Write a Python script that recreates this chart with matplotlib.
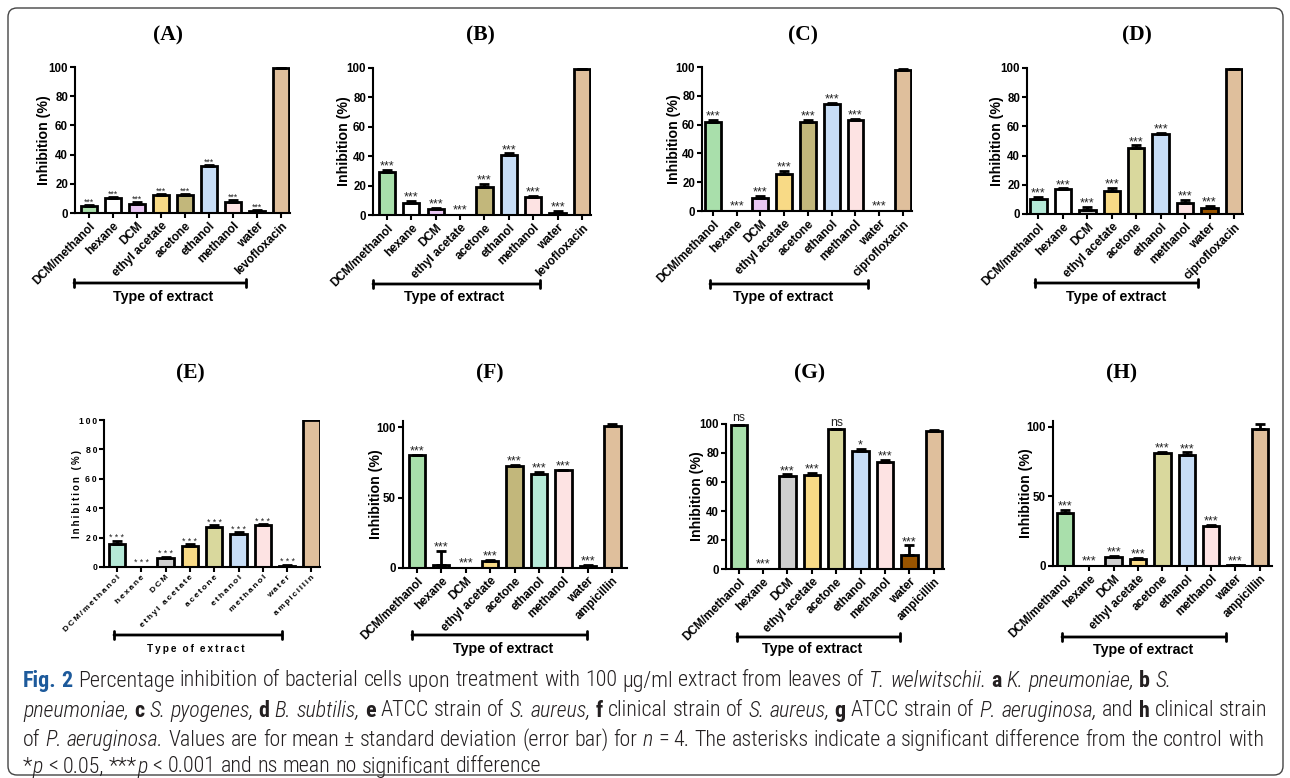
import matplotlib
matplotlib.use('Agg')
import matplotlib.pyplot as plt
import numpy as np
from matplotlib.patches import FancyBboxPatch

W, H = 1290, 778
fig = plt.figure(figsize=(W / 100, H / 100), dpi=100)
fig.patch.set_facecolor('white')

# ---------------- data ----------------
extracts = ['DCM/methanol', 'hexane', 'DCM', 'ethyl acetate', 'acetone',
            'ethanol', 'methanol', 'water']
control_A = 'levofloxacin'
control_B = 'levofloxacin'
control_C = 'ciprofloxacin'
control_D = 'ciprofloxacin'
control_E = 'ampicillin'
control_F = 'ampicillin'
control_G = 'ampicillin'
control_H = 'ampicillin'

vals_A = [4.5, 10, 6, 12.5, 12.5, 32.5, 7.5, 1.5, 99]
err_A = [1.0, 0.8, 1.5, 0.8, 0.8, 0.6, 1.5, 0.8, 0.5]
sig_A = ['***'] * 8 + ['']

vals_B = [29, 8.5, 4, 0, 19, 41, 12, 1.5, 99]
err_B = [1.5, 1.2, 1.0, 0, 2.0, 1.0, 0.8, 1.2, 0.5]
sig_B = ['***'] * 8 + ['']

vals_C = [62, 0, 9, 26, 62, 74, 63, 0, 98]
err_C = [1.5, 0, 1.5, 2.0, 1.5, 1.2, 1.0, 0, 0.5]
sig_C = ['***'] * 8 + ['']

vals_D = [10.5, 17, 3, 15.7, 45, 55, 7.7, 4, 99]
err_D = [1.2, 0.5, 1.8, 2.0, 2.0, 0.6, 1.8, 1.5, 0.5]
sig_D = ['***'] * 8 + ['']

vals_E = [15.5, 0, 6, 14.3, 27.3, 22.7, 28.6, 0.7, 100]
err_E = [2.5, 0, 1.0, 1.2, 1.0, 0.8, 0.8, 1.0, 0]
sig_E = ['***'] * 8 + ['']

vals_F = [80, 2, 0, 5, 72.7, 67, 69.2, 1.2, 101]
err_F = [0.5, 10.4, 0, 0.8, 0.5, 1.0, 0.5, 1.0, 1.0]
sig_F = ['***'] * 8 + ['']

vals_G = [99, 0, 63.8, 64.7, 96.3, 81.7, 73.6, 10, 95.4]
err_G = [1.0, 0, 1.5, 1.5, 0.5, 1.0, 1.5, 6.4, 0.3]
sig_G = ['ns', '***', '***', '***', 'ns', '*', '***', '***', '']

vals_H = [37.8, 0, 6.7, 5, 81.6, 79.7, 28.7, 0.5, 98.5]
err_H = [2.5, 0, 0.6, 0.8, 0.6, 2.0, 0.8, 0.3, 3.6]
sig_H = ['***'] * 8 + ['']

# ---------------- colours ----------------
GREEN, WHITE, LAV, YEL = '#a9dfab', '#ffffff', '#e9c6f3', '#f8da86'
OLIVE, LBLUE, PINK, TAN = '#c2b77b', '#c7ddf6', '#fde3e3', '#dfbf9c'
MINT, GREY, POLIVE, BROWN = '#b5e9d7', '#cfcfcf', '#d9d89d', '#9a5500'
DGREY, WGREY = '#8a8a8a', '#777777'

cols_A = [GREEN, WHITE, LAV, YEL, OLIVE, LBLUE, PINK, WGREY, TAN]
cols_B = [GREEN, WHITE, LAV, YEL, OLIVE, LBLUE, PINK, WGREY, TAN]
cols_C = [GREEN, WHITE, LAV, YEL, OLIVE, LBLUE, PINK, WGREY, TAN]
cols_D = [MINT, WHITE, GREY, YEL, POLIVE, LBLUE, PINK, BROWN, TAN]
cols_E = [MINT, WHITE, GREY, YEL, POLIVE, LBLUE, PINK, GREY, TAN]
cols_F = [GREEN, DGREY, WHITE, YEL, OLIVE, MINT, PINK, GREY, TAN]
cols_G = [GREEN, WHITE, GREY, YEL, POLIVE, LBLUE, PINK, BROWN, TAN]
cols_H = [GREEN, WHITE, GREY, YEL, POLIVE, LBLUE, PINK, GREY, TAN]

SANS = ['Liberation Sans', 'DejaVu Sans']
SERIF = ['Liberation Serif', 'DejaVu Serif']

# layout: left px, right px, y-zero px, y-top px, xlim, ylim, yticks,
# title (x,y), bracket (x1,x2,y), axis-label (x,y), ylabel gap px
layout = {
    'A': dict(L=75, R=290, Y0=213, YT=67, xl=(-0.58, 8.37), yl=100, yt=[0, 20, 40, 60, 80, 100],
              title=(168, 35), br=(74, 246, 283), lab=(163, 297), yg=24),
    'B': dict(L=373, R=591, Y0=215, YT=68, xl=(-0.57, 8.37), yl=100, yt=[0, 20, 40, 60, 80, 100],
              title=(480, 35), br=(373, 540, 284), lab=(454, 297), yg=22),
    'C': dict(L=702, R=912, Y0=211, YT=67, xl=(-0.46, 8.38), yl=100, yt=[0, 20, 40, 60, 80, 100],
              title=(803, 35), br=(710, 868, 284), lab=(783, 297), yg=21),
    'D': dict(L=1027, R=1243, Y0=214, YT=68, xl=(-0.47, 8.37), yl=100, yt=[0, 20, 40, 60, 80, 100],
              title=(1137, 35), br=(1035, 1198, 283), lab=(1116, 297), yg=23),
    'E': dict(L=104, R=320, Y0=567, YT=420, xl=(-0.53, 8.35), yl=100, yt=[0, 20, 40, 60, 80, 100],
              title=(190, 373), br=(114, 282, 635), lab=(196, 649), yg=22),
    'F': dict(L=403, R=627, Y0=568, YT=421, xl=(-0.56, 8.6), yl=104.3, yt=[0, 50, 100],
              title=(490, 373), br=(412, 587, 635), lab=(503, 649), yg=20),
    'G': dict(L=726, R=944, Y0=569, YT=424, xl=(-0.52, 8.42), yl=100, yt=[0, 20, 40, 60, 80, 100],
              title=(810, 373), br=(737, 900, 637), lab=(812, 649), yg=22),
    'H': dict(L=1053, R=1272, Y0=566, YT=421, xl=(-0.49, 8.5), yl=104.3, yt=[0, 50, 100],
              title=(1122, 373), br=(1062, 1226, 637), lab=(1143, 650), yg=20),
}


def spaced(s):
    return '\u2009'.join(s)


def panel(key, control, vals, errs, sigs, cols, spread=False, star_size=9.0):
    lay = layout[key]
    ax = fig.add_axes([lay['L'] / W, 1 - lay['Y0'] / H,
                       (lay['R'] - lay['L']) / W, (lay['Y0'] - lay['YT']) / H])
    n = len(vals)
    x = np.arange(n)
    vals = np.asarray(vals, float)
    errs = np.asarray(errs, float)
    lws = [0 if v == 0 else 2.0 for v in vals]
    ax.bar(x, vals, width=0.67, color=cols, edgecolor='black', linewidth=lws, zorder=2)
    m = errs > 0
    ax.errorbar(x[m], vals[m], yerr=[np.zeros(m.sum()), errs[m]], fmt='none',
                ecolor='black', elinewidth=2.0, capsize=3.6, capthick=2.0, zorder=3)
    for i, s in enumerate(sigs):
        if not s:
            continue
        top = vals[i] + errs[i]
        if s == 'ns':
            ax.annotate(s, (x[i], top), xytext=(0, 2.0), textcoords='offset points',
                        ha='center', va='baseline', fontsize=8.8, family=SANS, color='#222222')
        else:
            txt = ' '.join(s) if spread else s
            ax.annotate(txt, (x[i], top), xytext=(0, 0.2 if top > 0 else 1.4),
                        textcoords='offset points', ha='center', va='baseline',
                        fontsize=star_size, family=SANS, color='#222222')
    ax.set_xlim(*lay['xl'])
    ax.set_ylim(0, lay['yl'])
    ax.set_yticks(lay['yt'])
    labels = extracts + [control]
    ax.set_xticks(x)
    for s in ['top', 'right']:
        ax.spines[s].set_visible(False)
    for s in ['left', 'bottom']:
        ax.spines[s].set_linewidth(1.5)
    ax.tick_params(width=1.5, length=3.5, color='black', pad=1.5)
    if spread:
        ax.set_xticklabels([spaced(l) for l in labels], rotation=45, ha='right',
                           rotation_mode='anchor', fontsize=6.0, fontweight='bold', family=SANS)
        ax.set_yticklabels([spaced(str(t)) for t in lay['yt']], fontsize=6.3,
                           fontweight='bold', family=SANS)
        ax.set_ylabel(spaced('Inhibition (%)'), fontsize=7.0, fontweight='bold', family=SANS)
    else:
        ax.set_xticklabels(labels, rotation=45, ha='right', rotation_mode='anchor',
                           fontsize=8.5, fontweight='bold', family=SANS)
        ax.set_yticklabels([str(t) for t in lay['yt']], fontsize=8.3,
                           fontweight='bold', family=SANS)
        ax.set_ylabel('Inhibition (%)', fontsize=10.2, fontweight='bold', family=SANS)
    ax.yaxis.set_label_coords(-lay['yg'] / (lay['R'] - lay['L']), 0.5)
    # title
    tx, ty = lay['title']
    fig.text(tx / W, 1 - ty / H, '(%s)' % key, ha='center', va='center', fontsize=15.5,
             fontweight='bold', family=SERIF)
    # bracket
    x1, x2, by = lay['br']
    ax.annotate('', xy=(x2, H - by), xytext=(x1, H - by), xycoords='figure pixels',
                textcoords='figure pixels',
                arrowprops=dict(arrowstyle='|-|,widthA=0.3,widthB=0.3', lw=2.0,
                                color='black', shrinkA=0, shrinkB=0))
    lx, ly = lay['lab']
    if spread:
        fig.text(lx / W, 1 - ly / H, '\u2009'.join('Type of extract').replace('\u2009 \u2009', '\u2009\u2009\u2009'),
                 ha='center', va='center', fontsize=7.2, fontweight='bold', family=SANS)
    else:
        fig.text(lx / W, 1 - ly / H, 'Type of extract', ha='center', va='center',
                 fontsize=10.3, fontweight='bold', family=SANS)
    return ax


panel('A', control_A, vals_A, err_A, sig_A, cols_A, star_size=6.3)
panel('B', control_B, vals_B, err_B, sig_B, cols_B)
panel('C', control_C, vals_C, err_C, sig_C, cols_C)
panel('D', control_D, vals_D, err_D, sig_D, cols_D)
panel('E', control_E, vals_E, err_E, sig_E, cols_E, spread=True, star_size=6.3)
panel('F', control_F, vals_F, err_F, sig_F, cols_F)
panel('G', control_G, vals_G, err_G, sig_G, cols_G)
panel('H', control_H, vals_H, err_H, sig_H, cols_H)

# ---------------- frame ----------------
frame = FancyBboxPatch((8 / 100, (H - 775) / 100), (1283 - 8) / 100, (775 - 8) / 100,
                       boxstyle='round,pad=0,rounding_size=0.09',
                       transform=fig.dpi_scale_trans, fill=False,
                       edgecolor='#444444', linewidth=1.0)
fig.add_artist(frame)

# ---------------- caption ----------------
CAP_FAM = ['Roboto Condensed', 'Open Sans', 'DejaVu Sans']
CAP_COL = '#231f20'
styles = {
    'f': dict(fontweight='bold', color='#1d5a9b'),
    'r': dict(fontweight='light', color=CAP_COL),
    'b': dict(fontweight='bold', color=CAP_COL),
    'i': dict(fontstyle='italic', fontweight='light', color=CAP_COL),
}
cap_lines = [
    [('Fig. 2', 'f'), (' Percentage inhibition of bacterial cells upon treatment with 100 \u00b5g/ml extract from leaves of ', 'r'),
     ('T. welwitschii.', 'i'), (' ', 'r'), ('a', 'b'), (' ', 'r'), ('K. pneumoniae,', 'i'), (' ', 'r'),
     ('b', 'b'), (' ', 'r'), ('S.', 'i')],
    [('pneumoniae,', 'i'), (' ', 'r'), ('c', 'b'), (' ', 'r'), ('S. pyogenes,', 'i'), (' ', 'r'), ('d', 'b'),
     (' ', 'r'), ('B. subtilis,', 'i'), (' ', 'r'), ('e', 'b'), (' ATCC strain of ', 'r'), ('S. aureus,', 'i'),
     (' ', 'r'), ('f', 'b'), (' clinical strain of ', 'r'), ('S. aureus,', 'i'), (' ', 'r'), ('g', 'b'),
     (' ATCC strain of ', 'r'), ('P. aeruginosa,', 'i'), (' and ', 'r'), ('h', 'b'), (' clinical strain', 'r')],
    [('of ', 'r'), ('P. aeruginosa.', 'i'), (' Values are for mean \u00b1 standard deviation (error bar) for ', 'r'),
     ('n', 'i'), (' = 4. The asterisks indicate a significant difference from the control with', 'r')],
    [('*', 'r'), ('p', 'i'), (' < 0.05, ***', 'r'), ('p', 'i'), (' < 0.001 and ns mean no significant difference', 'r')],
]
cap_y = [681, 711, 740, 767]
cap_end = [1178, 1268, 1270]
cap_x0 = 23

renderer = fig.canvas.get_renderer()


def measure(s, st, size):
    t = fig.text(0, 0, s, fontsize=size, family=CAP_FAM, **styles[st])
    w = t.get_window_extent(renderer=renderer).width
    t.remove()
    return w


def draw_line(runs, x, y, size, draw=True):
    sp = {k: measure('n n', k, size) - measure('nn', k, size) for k in styles}
    for text, st in runs:
        parts = text.split(' ')
        for j, p in enumerate(parts):
            if j > 0:
                x += sp[st]
            if p:
                if draw:
                    t = fig.text(x / W, 1 - y / H, p, fontsize=size, family=CAP_FAM,
                                 ha='left', va='center', **styles[st])
                    x += t.get_window_extent(renderer=renderer).width
                else:
                    x += measure(p, st, size)
    return x


base = 12.0
scales = []
for runs, e in zip(cap_lines[:3], cap_end):
    w = draw_line(runs, cap_x0, 0, base, draw=False) - cap_x0
    scales.append((e - cap_x0) / w)
cap_size = base * min(scales)
for runs, y in zip(cap_lines, cap_y):
    draw_line(runs, cap_x0, y, cap_size)

fig.savefig('out.png', dpi=100, facecolor='white')
